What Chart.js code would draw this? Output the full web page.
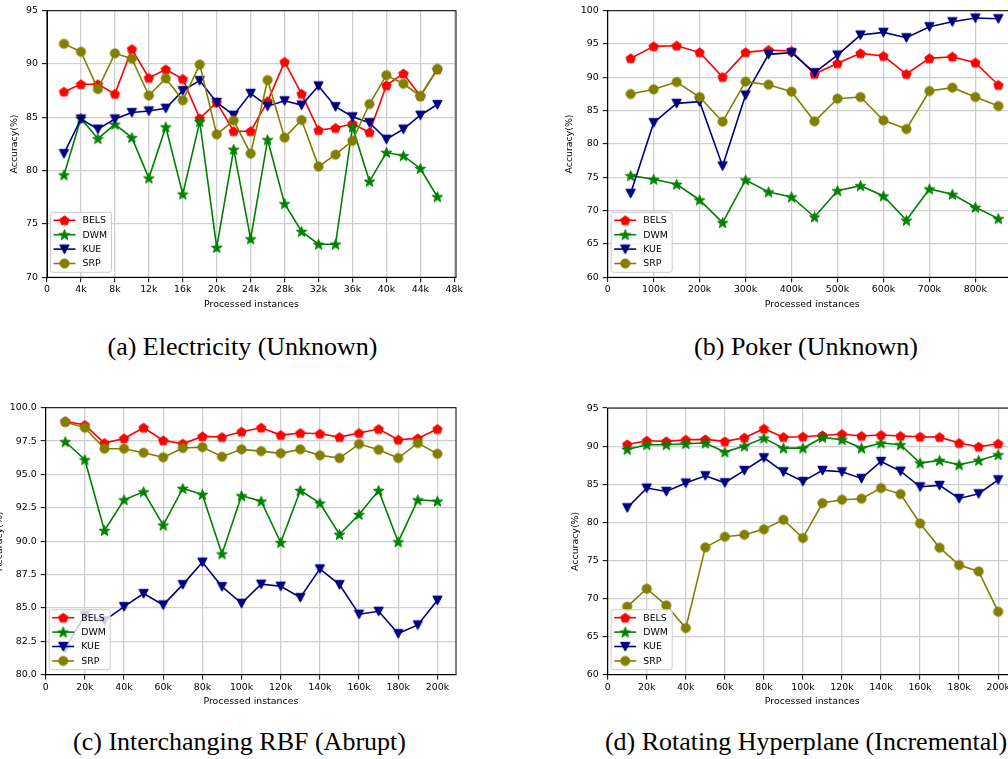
<!DOCTYPE html>
<html>
<head>
<meta charset="utf-8">
<script src="https://cdn.jsdelivr.net/npm/chart.js@4.4.1/dist/chart.umd.min.js"></script>
<style>
  body { margin: 0; background: #fff; width: 1008px; height: 759px; overflow: hidden; position: relative; }
  canvas { position: absolute; }
  .cap { position: absolute; font-family: "Liberation Serif", "Times New Roman", serif; font-size: 26px;
         line-height: 30px; white-space: nowrap; transform: translateX(-50%); color: #000; }
</style>
</head>
<body>
<canvas id="chartA" width="490" height="315" style="left:0px;top:0px"></canvas>
<canvas id="chartB" width="490" height="315" style="left:560px;top:0px"></canvas>
<canvas id="chartC" width="490" height="315" style="left:-10px;top:396.6px"></canvas>
<canvas id="chartD" width="490" height="315" style="left:560px;top:396.6px"></canvas>
<div class="cap" style="left:242.5px;top:331.5px">(a) Electricity (Unknown)</div>
<div class="cap" style="left:806px;top:331.5px">(b) Poker (Unknown)</div>
<div class="cap" style="left:239.5px;top:727px">(c) Interchanging RBF (Abrupt)</div>
<div class="cap" style="left:806px;top:727px">(d) Rotating Hyperplane (Incremental)</div>
<script>
// ---- data ----
const methods = ["BELS", "DWM", "KUE", "SRP"];
const methodColors = ["#ff0000", "#008000", "#000080", "#808000"];
const methodMarkers = ["pentagon", "star", "triangleDown", "circle"];

// (a) Electricity
const elecInstances = [2000, 4000, 6000, 8000, 10000, 12000, 14000, 16000, 18000, 20000, 22000, 24000,
  26000, 28000, 30000, 32000, 34000, 36000, 38000, 40000, 42000, 44000, 46000];
const elecBELS = [87.4, 88.1, 88.1, 87.2, 91.4, 88.7, 89.5, 88.6, 84.9, 86.4, 83.7, 83.7,
  86.5, 90.2, 87.2, 83.8, 84.0, 84.4, 83.6, 88.0, 89.1, 87.0, 89.5];
const elecDWM = [79.6, 84.9, 83.0, 84.35, 83.1, 79.3, 84.1, 77.8, 84.6, 72.8, 82.0, 73.6,
  82.9, 76.9, 74.3, 73.1, 73.1, 84.1, 79.0, 81.7, 81.4, 80.2, 77.55];
const elecKUE = [81.6, 84.85, 83.9, 84.85, 85.45, 85.6, 85.85, 87.5, 88.45, 86.4, 85.2, 87.25,
  86.05, 86.55, 86.15, 87.95, 86.0, 85.05, 84.5, 82.95, 83.9, 85.2, 86.2];
const elecSRP = [91.9, 91.15, 87.65, 91.0, 90.5, 87.05, 88.65, 86.6, 89.95, 83.4, 84.7, 81.6,
  88.5, 83.1, 84.75, 80.4, 81.5, 82.8, 86.25, 88.95, 88.15, 87.0, 89.55];
const elecXTicks = [0, 4000, 8000, 12000, 16000, 20000, 24000, 28000, 32000, 36000, 40000, 44000, 48000];
const elecYTicks = [70, 75, 80, 85, 90, 95];

// (b) Poker
const pokerInstances = [50000, 100000, 150000, 200000, 250000, 300000, 350000, 400000, 450000,
  500000, 550000, 600000, 650000, 700000, 750000, 800000, 850000];
const pokerBELS = [92.85, 94.65, 94.75, 93.75, 90.05, 93.75, 94.1, 93.95, 90.5, 92.1, 93.6, 93.2, 90.5, 92.85, 93.1, 92.2, 88.85];
const pokerDWM = [75.25, 74.7, 73.95, 71.6, 68.2, 74.6, 72.8, 72.05, 69.05, 73.0, 73.75, 72.2, 68.55, 73.25, 72.45, 70.5, 68.8];
const pokerKUE = [72.6, 83.2, 86.1, 86.35, 76.7, 87.35, 93.45, 93.7, 90.7, 93.35, 96.35, 96.75, 95.95, 97.6, 98.35, 98.9, 98.8];
const pokerSRP = [87.5, 88.2, 89.3, 87.05, 83.35, 89.35, 88.9, 87.85, 83.4, 86.8, 87.05, 83.55, 82.25, 87.95, 88.45, 87.05, 85.7];
const pokerXTicks = [0, 100000, 200000, 300000, 400000, 500000, 600000, 700000, 800000];
const pokerYTicks = [60, 65, 70, 75, 80, 85, 90, 95, 100];

// (c) Interchanging RBF and (d) Rotating Hyperplane share the same x positions
const synthInstances = [10000, 20000, 30000, 40000, 50000, 60000, 70000, 80000, 90000, 100000,
  110000, 120000, 130000, 140000, 150000, 160000, 170000, 180000, 190000, 200000];
const synthXTicks = [0, 20000, 40000, 60000, 80000, 100000, 120000, 140000, 160000, 180000, 200000];

const rbfBELS = [98.98, 98.7, 97.35, 97.7, 98.5, 97.55, 97.3, 97.85, 97.8, 98.2, 98.5, 97.95, 98.1, 98.05, 97.8, 98.1, 98.4, 97.6, 97.7, 98.4];
const rbfDWM = [97.45, 96.1, 90.8, 93.1, 93.7, 91.2, 93.95, 93.5, 89.05, 93.4, 93.0, 89.9, 93.8, 92.85, 90.5, 92.0, 93.8, 89.95, 93.1, 93.0];
const rbfKUE = [82.0, 84.45, 84.05, 85.1, 86.08, 85.23, 86.75, 88.43, 86.6, 85.35, 86.78, 86.63, 85.78, 87.93, 86.75, 84.53, 84.75, 83.08, 83.73, 85.58];
const rbfSRP = [98.93, 98.5, 96.93, 96.93, 96.63, 96.28, 96.98, 97.05, 96.33, 96.88, 96.75, 96.58, 96.88, 96.43, 96.23, 97.28, 96.85, 96.23, 97.35, 96.55];
const rbfYTicks = [80, 82.5, 85, 87.5, 90, 92.5, 95, 97.5, 100];

const hyperBELS = [90.23, 90.71, 90.63, 90.84, 90.89, 90.63, 91.1, 92.29, 91.19, 91.24, 91.41, 91.59, 91.33, 91.46, 91.33, 91.24, 91.19, 90.41, 89.93, 90.32];
const hyperDWM = [89.58, 90.19, 90.19, 90.32, 90.41, 89.23, 90.01, 91.06, 89.75, 89.75, 91.15, 90.84, 89.75, 90.41, 90.19, 87.78, 88.13, 87.56, 88.13, 88.88];
const hyperKUE = [81.92, 84.5, 84.06, 85.16, 86.12, 85.2, 86.82, 88.48, 86.64, 85.38, 86.82, 86.64, 85.77, 88.0, 86.73, 84.67, 84.85, 83.14, 83.76, 85.59];
const hyperSRP = [68.93, 71.29, 69.1, 66.13, 76.71, 78.11, 78.38, 79.08, 80.34, 77.94, 82.53, 82.97, 83.1, 84.5, 83.71, 79.86, 76.67, 74.39, 73.56, 68.27];
const hyperYTicks = [60, 65, 70, 75, 80, 85, 90, 95];

// ---- markers (matplotlib-like p, *, v, o) ----
function makeMarker(shape, color) {
    const c = document.createElement("canvas");
    c.width = 13;
    c.height = 13;
    const g = c.getContext("2d");
    const cx = 6.5, cy = 6.5;
    g.fillStyle = color;
    g.strokeStyle = color;
    g.lineWidth = 1;
    g.beginPath();
    if (shape === "circle") {
        g.arc(cx, cy, 4.6, 0, Math.PI * 2);
    } else if (shape === "pentagon") {
        for (let k = 0; k < 5; k++) {
            const a = -Math.PI / 2 + k * 2 * Math.PI / 5;
            g.lineTo(cx + 4.9 * Math.cos(a), cy + 4.9 * Math.sin(a) + 0.4);
        }
    } else if (shape === "star") {
        for (let k = 0; k < 10; k++) {
            const r = k % 2 === 0 ? 5.6 : 2.3;
            const a = -Math.PI / 2 + k * Math.PI / 5;
            g.lineTo(cx + r * Math.cos(a), cy + r * Math.sin(a) + 0.5);
        }
    } else if (shape === "triangleDown") {
        g.moveTo(cx - 4.7, cy - 4.2);
        g.lineTo(cx + 4.7, cy - 4.2);
        g.lineTo(cx, cy + 4.7);
    }
    g.closePath();
    g.fill();
    g.stroke();
    return c;
}
const markerImages = methods.map((m, i) => makeMarker(methodMarkers[i], methodColors[i]));

// ---- plugins ----
const frameBox = {
    id: "frameBox",
    beforeDatasetsDraw(chart) {
        const { ctx, chartArea } = chart;
        ctx.save();
        ctx.strokeStyle = "#000";
        ctx.lineWidth = 1;
        ctx.strokeRect(chartArea.left, chartArea.top, chartArea.right - chartArea.left, chartArea.bottom - chartArea.top);
        ctx.restore();
    },
};

const insideLegend = {
    id: "insideLegend",
    afterDatasetsDraw(chart) {
        const { ctx, chartArea } = chart;
        const w = 61, h = 60;
        const x = chartArea.left + 3.5;
        const y = chartArea.bottom - 5 - h;
        ctx.save();
        ctx.beginPath();
        ctx.roundRect(x, y, w, h, 2.5);
        ctx.globalAlpha = 0.8;
        ctx.fillStyle = "#fff";
        ctx.fill();
        ctx.globalAlpha = 1;
        ctx.strokeStyle = "#cccccc";
        ctx.lineWidth = 1;
        ctx.stroke();
        ctx.font = "9.4px 'DejaVu Sans'";
        ctx.textBaseline = "middle";
        ctx.fillStyle = "#000";
        chart.data.datasets.forEach((ds, i) => {
            const cy = y + 8 + i * 14.4;
            ctx.strokeStyle = ds.borderColor;
            ctx.lineWidth = 1.6;
            ctx.beginPath();
            ctx.moveTo(x + 3, cy);
            ctx.lineTo(x + 25, cy);
            ctx.stroke();
            ctx.drawImage(ds.pointStyle, x + 14 - 6.5, cy - 6.5);
            ctx.fillText(ds.label, x + 32, cy + 0.5);
        });
        ctx.restore();
    },
};

Chart.defaults.font.family = "'DejaVu Sans'";
Chart.defaults.font.size = 9.4;
Chart.defaults.color = "#000";

function kLabel(v) {
    return v === 0 ? "0" : v / 1000 + "k";
}

function drawPanel(id, xs, seriesList, xTicks, xMax, yTicks, yLabel, box) {
    const datasets = methods.map((name, i) => ({
        label: name,
        data: xs.map((x, j) => ({ x: x, y: seriesList[i][j] })),
        borderColor: methodColors[i],
        backgroundColor: methodColors[i],
        borderWidth: 1.6,
        pointStyle: markerImages[i],
        pointRadius: 5,
        pointHoverRadius: 5,
        tension: 0,
        fill: false,
        order: 4 - i,
    }));
    const gridOpts = { color: "#cfcfcf", lineWidth: 1.3, tickColor: "#000", tickLength: 5, tickWidth: 1 };
    new Chart(document.getElementById(id), {
        type: "line",
        data: { datasets: datasets },
        options: {
            responsive: false,
            animation: false,
            events: [],
            layout: { padding: box.padding },
            plugins: { legend: { display: false }, tooltip: { enabled: false } },
            scales: {
                x: {
                    type: "linear",
                    min: 0,
                    max: xMax,
                    grid: gridOpts,
                    border: { color: "#000", width: 1 },
                    afterBuildTicks: (s) => { s.ticks = xTicks.map((v) => ({ value: v })); },
                    afterFit: (s) => { s.height = box.xh; },
                    ticks: { autoSkip: false, maxRotation: 0, padding: 2, callback: kLabel },
                    title: { display: true, text: "Processed instances", padding: { top: 0, bottom: box.xTitlePad } },
                },
                y: {
                    min: yTicks[0],
                    max: yTicks[yTicks.length - 1],
                    grid: gridOpts,
                    border: { color: "#000", width: 1 },
                    afterBuildTicks: (s) => { s.ticks = yTicks.map((v) => ({ value: v })); },
                    afterFit: (s) => { s.width = box.yw; },
                    ticks: { padding: 4, callback: yLabel },
                    title: { display: true, text: "Accuracy(%)", padding: { top: box.yTitlePad, bottom: 0 } },
                },
            },
        },
        plugins: [frameBox, insideLegend],
    });
}

const intLabel = (v) => String(v);
const oneDecLabel = (v) => v.toFixed(1);

drawPanel("chartA", elecInstances, [elecBELS, elecDWM, elecKUE, elecSRP], elecXTicks, 48200, elecYTicks, intLabel,
    { padding: { left: 0, top: 10.7, right: 34, bottom: 0 }, yw: 47, xh: 37.7, yTitlePad: 9.4, xTitlePad: 5.3 });
drawPanel("chartB", pokerInstances, [pokerBELS, pokerDWM, pokerKUE, pokerSRP], pokerXTicks, 890000, pokerYTicks, intLabel,
    { padding: { left: 0, top: 10.7, right: 33.3, bottom: 0 }, yw: 47.7, xh: 37.7, yTitlePad: 4.4, xTitlePad: 5.3 });
drawPanel("chartC", synthInstances, [rbfBELS, rbfDWM, rbfKUE, rbfSRP], synthXTicks, 209500, rbfYTicks, oneDecLabel,
    { padding: { left: 0, top: 10.7, right: 24, bottom: 0 }, yw: 55.7, xh: 37.3, yTitlePad: 4.4, xTitlePad: 5 });
drawPanel("chartD", synthInstances, [hyperBELS, hyperDWM, hyperKUE, hyperSRP], synthXTicks, 209500, hyperYTicks, intLabel,
    { padding: { left: 0, top: 11.1, right: 33.3, bottom: 0 }, yw: 47.7, xh: 37.3, yTitlePad: 10.4, xTitlePad: 5 });
</script>
</body>
</html>
